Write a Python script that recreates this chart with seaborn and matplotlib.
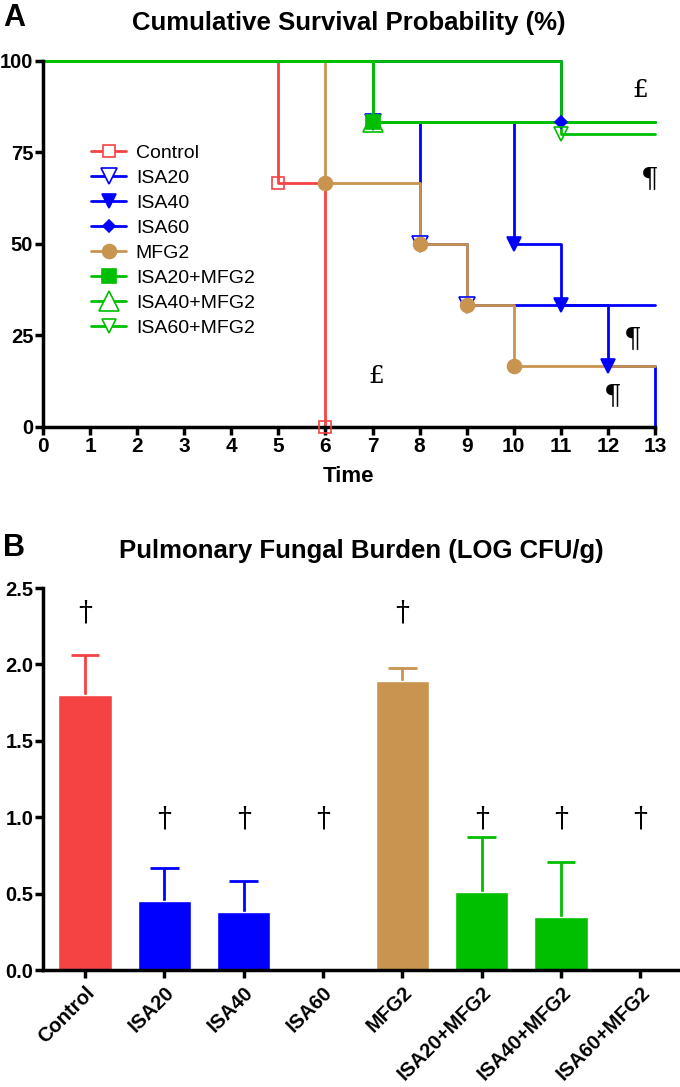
import seaborn as sns
import pandas as pd
import numpy as np
import matplotlib.pyplot as plt
from matplotlib.lines import Line2D

# survival data (time of change, survival % after change)
groups = ['Control', 'ISA20', 'ISA40', 'ISA60', 'MFG2', 'ISA20+MFG2', 'ISA40+MFG2', 'ISA60+MFG2']
surv_times = {
    'Control': [0, 5, 6],
    'ISA20': [0, 7, 8, 9, 13],
    'ISA40': [0, 7, 10, 11, 12, 13],
    'ISA60': [0, 11, 13],
    'MFG2': [0, 6, 8, 9, 10, 13],
    'ISA20+MFG2': [0, 7, 13],
    'ISA40+MFG2': [0, 7, 13],
    'ISA60+MFG2': [0, 11, 13],
}
surv_vals = {
    'Control': [100, 66.7, 0],
    'ISA20': [100, 83.3, 50, 33.3, 33.3],
    'ISA40': [100, 83.3, 50, 33.3, 16.7, 0],
    'ISA60': [100, 83.3, 83.3],
    'MFG2': [100, 66.7, 50, 33.3, 16.7, 16.7],
    'ISA20+MFG2': [100, 83.3, 83.3],
    'ISA40+MFG2': [100, 83.3, 83.3],
    'ISA60+MFG2': [100, 80, 80],
}
# fungal burden
burden_mean = [1.80, 0.45, 0.38, 0.0, 1.89, 0.51, 0.35, 0.0]
burden_err = [0.26, 0.22, 0.20, 0.0, 0.09, 0.36, 0.36, 0.0]
dagger_y = [2.34, 0.99, 0.99, 0.99, 2.34, 0.99, 0.99, 0.99]

red = '#f54242'
blue = '#0000ff'
tan = '#c8944f'
green = '#00bf00'
colors = {'Control': red, 'ISA20': blue, 'ISA40': blue, 'ISA60': blue, 'MFG2': tan,
          'ISA20+MFG2': green, 'ISA40+MFG2': green, 'ISA60+MFG2': green}
# marker, size, filled
mstyle = {
    'Control': ('s', 9, False),
    'ISA20': ('v', 12, False),
    'ISA40': ('v', 10, True),
    'ISA60': ('D', 6, True),
    'MFG2': ('o', 10, True),
    'ISA20+MFG2': ('s', 10, True),
    'ISA40+MFG2': ('^', 15, False),
    'ISA60+MFG2': ('v', 10, False),
}

sns.set_style("ticks")
plt.rcParams['font.family'] = ['Liberation Sans', 'DejaVu Sans']
plt.rcParams['text.color'] = 'black'
plt.rcParams['axes.labelcolor'] = 'black'
plt.rcParams['xtick.color'] = 'black'
plt.rcParams['ytick.color'] = 'black'

fig = plt.figure(figsize=(6.8, 10.87), dpi=100)
ax1 = fig.add_axes([0.0632, 0.6072, 0.9, 0.3367])
ax2 = fig.add_axes([0.0632, 0.1076, 0.9368, 0.3514])

rows = []
for g in groups:
    for t, s in zip(surv_times[g], surv_vals[g]):
        rows.append({'group': g, 'time': t, 'surv': s})
df = pd.DataFrame(rows)

sns.lineplot(data=df, x='time', y='surv', hue='group', hue_order=groups, palette=colors,
             estimator=None, sort=False, drawstyle='steps-post', linewidth=2,
             legend=False, ax=ax1, clip_on=False)

for g in groups:
    t = surv_times[g]
    s = surv_vals[g]
    pts_t = [t[i] for i in range(1, len(t)) if s[i] < s[i - 1] and t[i] < 13]
    pts_s = [s[i] for i in range(1, len(t)) if s[i] < s[i - 1] and t[i] < 13]
    m, ms, filled = mstyle[g]
    ax1.plot(pts_t, pts_s, linestyle='none', marker=m, markersize=ms,
             markerfacecolor=colors[g] if filled else 'none', markeredgecolor=colors[g],
             markeredgewidth=1.2, clip_on=False, zorder=3)

handles = []
for g in groups:
    m, ms, filled = mstyle[g]
    handles.append(Line2D([0], [0], color=colors[g], lw=2, marker=m, markersize=ms,
                          markerfacecolor=colors[g] if filled else 'white',
                          markeredgecolor=colors[g], markeredgewidth=1.2))
ax1.legend(handles, groups, loc='upper left', bbox_to_anchor=(0.05, 0.82), frameon=False,
           fontsize=14, handlelength=1.8, labelspacing=0.38, handletextpad=0.5)

ax1.set_xlim(0, 13)
ax1.set_ylim(0, 100)
ax1.set_xticks(range(0, 14))
ax1.set_yticks([0, 25, 50, 75, 100])
ax1.set_xlabel('Time', fontsize=16, fontweight='bold', labelpad=7)
ax1.set_ylabel('')
ax1.set_title('Cumulative Survival Probability (%)', fontsize=18.5, fontweight='bold', pad=22)

sym_font = ['DejaVu Serif']
ax1.text(12.68, 92, '£', fontsize=18, family=sym_font, ha='center', va='center')
ax1.text(12.89, 67.5, '¶', fontsize=20, family=sym_font, ha='center', va='center')
ax1.text(7.07, 13.7, '£', fontsize=18, family=sym_font, ha='center', va='center')
ax1.text(12.53, 23.8, '¶', fontsize=20, family=sym_font, ha='center', va='center')
ax1.text(12.1, 8.2, '¶', fontsize=20, family=sym_font, ha='center', va='center')

# bar chart
bar_df = pd.DataFrame({'group': groups, 'burden': burden_mean})
sns.barplot(data=bar_df, x='group', y='burden', hue='group', palette=colors, legend=False,
            saturation=1, width=0.67, ax=ax2, zorder=2)
for i, (m, e) in enumerate(zip(burden_mean, burden_err)):
    if e > 0:
        ax2.vlines(i, m, m + e, color=colors[groups[i]], lw=2, zorder=1)
        ax2.hlines(m + e, i - 0.18, i + 0.18, color=colors[groups[i]], lw=2, zorder=1)

for i, y in enumerate(dagger_y):
    ax2.text(i, y, '†', fontsize=20, family=sym_font, ha='center', va='center')

ax2.set_xlim(-0.53, 7.5)
ax2.set_ylim(0, 2.5)
ax2.set_yticks([0, 0.5, 1.0, 1.5, 2.0, 2.5])
ax2.set_yticklabels(['0.0', '0.5', '1.0', '1.5', '2.0', '2.5'])
ax2.set_xlabel('')
ax2.set_ylabel('')
ax2.set_xticks(range(len(groups)))
ax2.set_xticklabels(groups, rotation=45, ha='right', rotation_mode='anchor')
ax2.set_title('Pulmonary Fungal Burden (LOG CFU/g)', fontsize=18.5, fontweight='bold', pad=22)

for ax in (ax1, ax2):
    sns.despine(ax=ax)
    for sp in ('left', 'bottom'):
        ax.spines[sp].set_linewidth(2.5)
        ax.spines[sp].set_color('black')
    ax.tick_params(width=2.5, length=6, labelsize=15, pad=1.5, color='black')
    ax.tick_params(axis='y', labelsize=14.5, pad=1)
    for lab in ax.get_xticklabels() + ax.get_yticklabels():
        lab.set_fontweight('bold')
ax2.tick_params(axis='x', labelsize=14.5, pad=3)

fig.text(0.005, 0.983, 'A', fontsize=22, fontweight='bold', va='center')
fig.text(0.005, 0.496, 'B', fontsize=22, fontweight='bold', va='center')

fig.savefig('out.png', dpi=100)
